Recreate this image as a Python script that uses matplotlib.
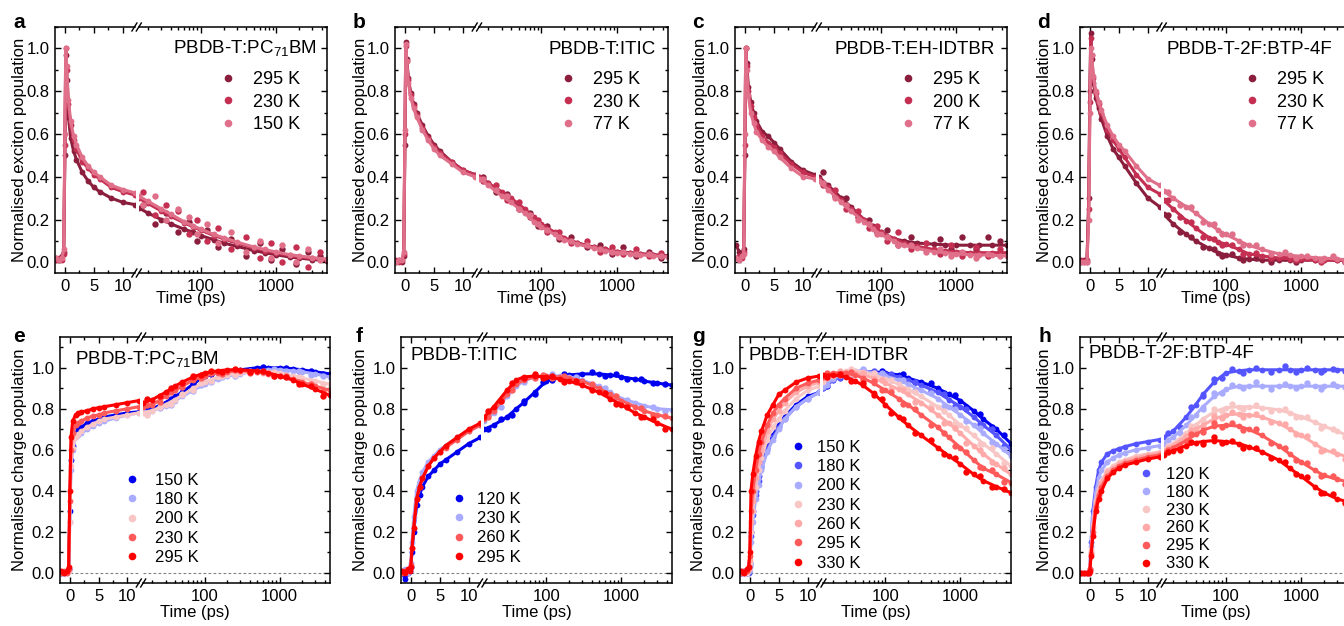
import numpy as np
import matplotlib
matplotlib.use("Agg")
import matplotlib.pyplot as plt
from matplotlib.lines import Line2D
from matplotlib.ticker import MultipleLocator, FixedLocator, FuncFormatter, LogLocator, NullFormatter

plt.rcParams['font.family'] = ['Liberation Sans', 'DejaVu Sans']
plt.rcParams['mathtext.fontset'] = 'custom'
plt.rcParams['mathtext.rm'] = 'Liberation Sans'

# ---------------- data ----------------
# time grids (ps): fit curves and extra scattered measurement points
TX = [-1.5, -1.0, -0.5, -0.2, 0.0, 0.15, 0.3, 0.6, 1.0, 1.5, 2, 3, 4, 5, 6, 8, 10, 12,
      15, 20, 30, 40, 60, 80, 100, 150, 200, 300, 500, 700, 1000, 1500, 2000, 3000, 4700]
TC = [-1.5, -1.0, -0.5, -0.2, 0.0, 0.2, 0.5, 1.0, 1.5, 2, 3, 4, 5, 6, 8, 10, 12,
      15, 20, 30, 40, 50, 70, 100, 150, 200, 300, 500, 700, 1000, 1500, 2000, 3000, 4700]
TD = [17, 25, 35, 50, 70, 90, 120, 170, 250, 400, 600, 850, 1200, 1800, 2600, 3800]

# a: PBDB-T:PC71BM exciton
a295 = [0.02, 0.01, 0.03, 0.05, 0.50, 0.97, 0.85, 0.68, 0.58, 0.52, 0.48, 0.42, 0.38, 0.35, 0.33, 0.30, 0.28, 0.27,
        0.255, 0.23, 0.20, 0.18, 0.155, 0.14, 0.125, 0.105, 0.09, 0.075, 0.055, 0.045, 0.035, 0.025, 0.02, 0.013, 0.008]
a230 = [0.01, 0.02, 0.01, 0.04, 0.55, 1.00, 0.90, 0.74, 0.64, 0.57, 0.53, 0.47, 0.44, 0.41, 0.39, 0.35, 0.33, 0.315,
        0.30, 0.275, 0.24, 0.215, 0.185, 0.165, 0.15, 0.125, 0.11, 0.09, 0.068, 0.055, 0.043, 0.032, 0.025, 0.018, 0.012]
a150 = [0.02, 0.01, 0.02, 0.06, 0.60, 1.00, 0.92, 0.76, 0.66, 0.59, 0.55, 0.49, 0.45, 0.42, 0.40, 0.36, 0.34, 0.325,
        0.31, 0.285, 0.25, 0.225, 0.19, 0.17, 0.155, 0.13, 0.115, 0.095, 0.072, 0.06, 0.048, 0.036, 0.03, 0.022, 0.015]
a295d = [0.27, 0.18, 0.23, 0.14, 0.19, 0.10, 0.15, 0.07, 0.11, 0.03, 0.09, 0.01, 0.06, -0.01, 0.05, 0.03]
a230d = [0.33, 0.22, 0.27, 0.24, 0.13, 0.20, 0.10, 0.16, 0.06, 0.12, 0.02, 0.09, 0.00, 0.07, -0.02, 0.05]
a150d = [0.27, 0.31, 0.20, 0.25, 0.21, 0.13, 0.18, 0.09, 0.14, 0.05, 0.10, 0.02, 0.08, 0.00, 0.06, 0.01]
# b: PBDB-T:ITIC exciton
b295 = [0.0, 0.01, 0.0, 0.03, 0.55, 1.03, 0.95, 0.86, 0.79, 0.74, 0.70, 0.64, 0.59, 0.55, 0.52, 0.47, 0.43, 0.41,
        0.40, 0.37, 0.32, 0.29, 0.24, 0.20, 0.17, 0.135, 0.11, 0.09, 0.07, 0.06, 0.05, 0.045, 0.04, 0.035, 0.03]
b230 = [0.01, 0.0, 0.01, 0.04, 0.60, 1.01, 0.94, 0.85, 0.78, 0.73, 0.69, 0.63, 0.58, 0.54, 0.51, 0.47, 0.43, 0.41,
        0.40, 0.37, 0.33, 0.30, 0.25, 0.21, 0.18, 0.14, 0.115, 0.09, 0.07, 0.06, 0.05, 0.043, 0.04, 0.035, 0.03]
b77 = [0.0, 0.01, 0.01, 0.05, 0.62, 1.02, 0.94, 0.84, 0.77, 0.72, 0.68, 0.62, 0.57, 0.53, 0.50, 0.46, 0.42, 0.40,
       0.39, 0.36, 0.31, 0.28, 0.23, 0.19, 0.165, 0.13, 0.105, 0.085, 0.065, 0.055, 0.045, 0.04, 0.035, 0.03, 0.025]
b295d = [0.40, 0.33, 0.32, 0.25, 0.23, 0.17, 0.17, 0.11, 0.12, 0.07, 0.08, 0.04, 0.07, 0.03, 0.05, 0.02]
b230d = [0.38, 0.36, 0.29, 0.28, 0.21, 0.20, 0.14, 0.14, 0.09, 0.10, 0.05, 0.07, 0.04, 0.06, 0.03, 0.045]
b77d = [0.39, 0.34, 0.31, 0.25, 0.22, 0.18, 0.15, 0.12, 0.10, 0.08, 0.06, 0.05, 0.05, 0.04, 0.04, 0.03]
# c: PBDB-T:EH-IDTBR exciton
c295 = [0.08, 0.05, 0.03, 0.06, 0.50, 1.00, 0.93, 0.82, 0.75, 0.70, 0.66, 0.61, 0.59, 0.56, 0.53, 0.47, 0.43, 0.41,
        0.40, 0.36, 0.30, 0.26, 0.20, 0.17, 0.14, 0.11, 0.10, 0.09, 0.085, 0.082, 0.08, 0.08, 0.08, 0.08, 0.08]
c200 = [0.02, 0.03, 0.02, 0.05, 0.55, 1.00, 0.92, 0.80, 0.73, 0.68, 0.64, 0.59, 0.56, 0.54, 0.51, 0.46, 0.42, 0.40,
        0.39, 0.35, 0.29, 0.25, 0.20, 0.165, 0.14, 0.11, 0.09, 0.075, 0.06, 0.055, 0.05, 0.045, 0.045, 0.045, 0.045]
c77 = [0.02, 0.01, 0.03, 0.04, 0.60, 1.00, 0.90, 0.78, 0.70, 0.65, 0.61, 0.57, 0.54, 0.52, 0.49, 0.44, 0.40, 0.39,
       0.38, 0.34, 0.28, 0.24, 0.19, 0.155, 0.13, 0.10, 0.08, 0.065, 0.05, 0.045, 0.04, 0.035, 0.035, 0.033, 0.03]
c295d = [0.42, 0.31, 0.30, 0.21, 0.20, 0.14, 0.15, 0.08, 0.12, 0.06, 0.11, 0.06, 0.12, 0.06, 0.12, 0.10]
c200d = [0.36, 0.34, 0.25, 0.24, 0.16, 0.17, 0.10, 0.14, 0.06, 0.09, 0.04, 0.08, 0.03, 0.07, 0.03, 0.06]
c77d = [0.37, 0.30, 0.27, 0.20, 0.18, 0.13, 0.12, 0.08, 0.08, 0.05, 0.06, 0.03, 0.05, 0.02, 0.04, 0.03]
# d: PBDB-T-2F:BTP-4F exciton
d295 = [0.0, 0.01, 0.0, 0.30, 0.80, 1.07, 0.95, 0.84, 0.77, 0.72, 0.67, 0.59, 0.53, 0.49, 0.45, 0.37, 0.30, 0.26,
        0.225, 0.18, 0.13, 0.10, 0.065, 0.045, 0.035, 0.02, 0.015, 0.01, 0.01, 0.01, 0.01, 0.01, 0.01, 0.01, 0.01]
d230 = [0.01, 0.0, 0.01, 0.25, 0.75, 1.05, 0.97, 0.86, 0.79, 0.74, 0.70, 0.62, 0.57, 0.53, 0.49, 0.41, 0.35, 0.32,
        0.29, 0.25, 0.195, 0.16, 0.115, 0.095, 0.085, 0.06, 0.04, 0.03, 0.02, 0.017, 0.015, 0.012, 0.01, 0.01, 0.01]
d77 = [0.0, 0.0, 0.0, 0.20, 0.70, 1.00, 0.97, 0.87, 0.80, 0.75, 0.71, 0.64, 0.59, 0.55, 0.52, 0.45, 0.39, 0.36,
       0.335, 0.30, 0.26, 0.23, 0.18, 0.15, 0.13, 0.10, 0.08, 0.06, 0.04, 0.033, 0.028, 0.022, 0.02, 0.015, 0.01]
d295d = [0.22, 0.14, 0.12, 0.07, 0.06, 0.03, 0.04, 0.01, 0.02, 0.00, 0.02, 0.00, 0.02, 0.01, 0.02, 0.00]
d230d = [0.29, 0.21, 0.19, 0.12, 0.11, 0.08, 0.08, 0.04, 0.045, 0.02, 0.03, 0.01, 0.02, 0.00, 0.02, 0.01]
d77d = [0.33, 0.27, 0.26, 0.19, 0.18, 0.13, 0.13, 0.08, 0.08, 0.04, 0.05, 0.02, 0.03, 0.01, 0.03, 0.00]

# e: PBDB-T:PC71BM charge
e150 = [0.0, 0.0, 0.01, 0.02, 0.30, 0.55, 0.62, 0.68, 0.70, 0.71, 0.73, 0.74, 0.75, 0.76, 0.77, 0.78, 0.785,
        0.79, 0.80, 0.83, 0.86, 0.88, 0.92, 0.96, 0.975, 0.98, 0.99, 1.0, 1.0, 1.0, 0.995, 0.99, 0.98, 0.97]
e180 = [0.0, 0.0, 0.0, 0.01, 0.25, 0.50, 0.60, 0.66, 0.67, 0.68, 0.70, 0.715, 0.73, 0.74, 0.755, 0.77, 0.78,
        0.785, 0.79, 0.815, 0.84, 0.86, 0.89, 0.92, 0.945, 0.96, 0.97, 0.985, 0.99, 0.99, 0.985, 0.98, 0.97, 0.955]
e200 = [0.01, 0.0, 0.0, 0.01, 0.25, 0.52, 0.61, 0.66, 0.675, 0.69, 0.71, 0.725, 0.74, 0.75, 0.76, 0.77, 0.78,
        0.78, 0.79, 0.82, 0.845, 0.865, 0.90, 0.93, 0.955, 0.965, 0.975, 0.98, 0.98, 0.975, 0.96, 0.95, 0.935, 0.92]
e230 = [0.0, 0.01, 0.0, 0.02, 0.35, 0.60, 0.68, 0.72, 0.73, 0.74, 0.755, 0.765, 0.77, 0.78, 0.79, 0.80, 0.81,
        0.81, 0.82, 0.86, 0.89, 0.91, 0.94, 0.96, 0.975, 0.98, 0.985, 0.98, 0.97, 0.96, 0.945, 0.93, 0.91, 0.89]
e295 = [0.01, 0.0, 0.01, 0.03, 0.40, 0.66, 0.74, 0.77, 0.78, 0.785, 0.79, 0.80, 0.805, 0.81, 0.82, 0.83, 0.84,
        0.83, 0.845, 0.88, 0.91, 0.93, 0.955, 0.975, 0.985, 0.99, 0.99, 0.985, 0.975, 0.96, 0.94, 0.92, 0.895, 0.865]
e150d = [0.80, 0.81, 0.85, 0.875, 0.925, 0.94, 0.97, 0.975, 0.99, 0.99, 1.005, 0.995, 1.0, 0.985, 0.985, 0.97]
e180d = [0.78, 0.805, 0.82, 0.865, 0.885, 0.915, 0.93, 0.955, 0.96, 0.985, 0.98, 0.995, 0.985, 0.985, 0.965, 0.96]
e200d = [0.77, 0.81, 0.825, 0.87, 0.89, 0.925, 0.935, 0.96, 0.965, 0.98, 0.975, 0.98, 0.965, 0.955, 0.935, 0.92]
e230d = [0.82, 0.835, 0.88, 0.905, 0.945, 0.95, 0.975, 0.97, 0.99, 0.975, 0.98, 0.96, 0.96, 0.93, 0.92, 0.885]
e295d = [0.85, 0.86, 0.90, 0.925, 0.96, 0.965, 0.985, 0.98, 0.995, 0.98, 0.985, 0.96, 0.955, 0.92, 0.91, 0.86]
# f: PBDB-T:ITIC charge
f120 = [0.0, -0.03, 0.0, 0.01, 0.03, 0.10, 0.20, 0.33, 0.38, 0.42, 0.47, 0.50, 0.53, 0.55, 0.59, 0.63, 0.66,
        0.70, 0.72, 0.76, 0.80, 0.83, 0.88, 0.935, 0.955, 0.965, 0.97, 0.97, 0.965, 0.955, 0.945, 0.935, 0.925, 0.915]
f230 = [0.01, 0.02, 0.0, 0.02, 0.05, 0.15, 0.27, 0.40, 0.45, 0.49, 0.54, 0.57, 0.60, 0.62, 0.66, 0.69, 0.72,
        0.74, 0.78, 0.86, 0.91, 0.935, 0.955, 0.96, 0.96, 0.955, 0.94, 0.91, 0.88, 0.85, 0.83, 0.815, 0.80, 0.795]
f260 = [0.0, 0.01, 0.02, 0.02, 0.04, 0.12, 0.22, 0.36, 0.42, 0.46, 0.52, 0.56, 0.59, 0.61, 0.65, 0.69, 0.72,
        0.75, 0.79, 0.87, 0.92, 0.94, 0.955, 0.96, 0.955, 0.95, 0.935, 0.90, 0.87, 0.84, 0.81, 0.79, 0.77, 0.755]
f295 = [0.01, 0.0, 0.02, 0.01, 0.03, 0.12, 0.22, 0.36, 0.42, 0.46, 0.52, 0.56, 0.59, 0.62, 0.66, 0.70, 0.73,
        0.76, 0.81, 0.89, 0.94, 0.955, 0.96, 0.955, 0.945, 0.935, 0.915, 0.88, 0.85, 0.82, 0.78, 0.76, 0.73, 0.70]
f120d = [0.70, 0.75, 0.77, 0.84, 0.87, 0.93, 0.94, 0.97, 0.96, 0.98, 0.96, 0.97, 0.945, 0.945, 0.925, 0.92]
f230d = [0.77, 0.81, 0.895, 0.93, 0.965, 0.955, 0.97, 0.95, 0.955, 0.915, 0.90, 0.855, 0.845, 0.81, 0.81, 0.79]
f260d = [0.76, 0.84, 0.89, 0.95, 0.95, 0.965, 0.95, 0.96, 0.93, 0.92, 0.875, 0.86, 0.82, 0.805, 0.77, 0.765]
f295d = [0.79, 0.84, 0.925, 0.95, 0.97, 0.95, 0.96, 0.93, 0.935, 0.89, 0.875, 0.825, 0.81, 0.76, 0.75, 0.70]
# g: PBDB-T:EH-IDTBR charge
g150 = [0.0, 0.01, 0.0, 0.01, 0.05, 0.20, 0.30, 0.40, 0.47, 0.52, 0.61, 0.67, 0.72, 0.76, 0.82, 0.86, 0.88,
        0.90, 0.94, 0.97, 0.98, 0.98, 0.98, 0.975, 0.965, 0.95, 0.93, 0.90, 0.87, 0.84, 0.79, 0.75, 0.70, 0.63]
g180 = [0.0, 0.0, 0.01, 0.0, 0.04, 0.18, 0.28, 0.38, 0.45, 0.51, 0.60, 0.66, 0.71, 0.75, 0.81, 0.85, 0.88,
        0.90, 0.94, 0.97, 0.98, 0.98, 0.975, 0.97, 0.955, 0.94, 0.915, 0.88, 0.845, 0.81, 0.76, 0.72, 0.67, 0.60]
g200 = [0.01, 0.0, 0.0, 0.01, 0.03, 0.15, 0.25, 0.36, 0.43, 0.50, 0.59, 0.65, 0.70, 0.75, 0.81, 0.85, 0.88,
        0.905, 0.945, 0.975, 0.985, 0.985, 0.975, 0.96, 0.94, 0.92, 0.89, 0.85, 0.81, 0.77, 0.72, 0.68, 0.63, 0.57]
g230 = [0.0, 0.01, 0.0, 0.02, 0.05, 0.20, 0.30, 0.42, 0.50, 0.56, 0.65, 0.71, 0.75, 0.79, 0.85, 0.89, 0.91,
        0.93, 0.96, 0.985, 0.985, 0.98, 0.965, 0.945, 0.92, 0.895, 0.86, 0.81, 0.77, 0.72, 0.67, 0.63, 0.58, 0.52]
g260 = [0.01, 0.0, 0.01, 0.02, 0.06, 0.25, 0.35, 0.46, 0.54, 0.60, 0.69, 0.75, 0.79, 0.83, 0.88, 0.91, 0.93,
        0.95, 0.97, 0.98, 0.975, 0.965, 0.95, 0.925, 0.895, 0.87, 0.83, 0.77, 0.73, 0.68, 0.62, 0.58, 0.53, 0.48]
g295 = [0.0, 0.01, 0.01, 0.03, 0.08, 0.30, 0.40, 0.50, 0.58, 0.64, 0.72, 0.78, 0.82, 0.85, 0.90, 0.925, 0.94,
        0.955, 0.975, 0.975, 0.965, 0.95, 0.925, 0.89, 0.85, 0.82, 0.77, 0.71, 0.66, 0.61, 0.55, 0.51, 0.48, 0.44]
g330 = [0.01, 0.0, 0.02, 0.03, 0.10, 0.40, 0.48, 0.57, 0.64, 0.69, 0.77, 0.82, 0.87, 0.89, 0.93, 0.95, 0.96,
        0.965, 0.965, 0.955, 0.935, 0.915, 0.875, 0.82, 0.76, 0.72, 0.67, 0.61, 0.57, 0.53, 0.48, 0.45, 0.42, 0.39]
g150d = [0.91, 0.965, 0.97, 0.99, 0.975, 0.985, 0.965, 0.97, 0.93, 0.925, 0.875, 0.865, 0.81, 0.775, 0.71, 0.67]
g180d = [0.93, 0.95, 0.985, 0.97, 0.985, 0.965, 0.97, 0.94, 0.93, 0.885, 0.87, 0.815, 0.80, 0.725, 0.70, 0.62]
g200d = [0.915, 0.97, 0.975, 0.995, 0.965, 0.975, 0.94, 0.94, 0.89, 0.875, 0.815, 0.80, 0.74, 0.705, 0.64, 0.605]
g230d = [0.955, 0.965, 0.995, 0.97, 0.975, 0.94, 0.94, 0.895, 0.88, 0.815, 0.79, 0.73, 0.705, 0.63, 0.61, 0.535]
g260d = [0.95, 0.985, 0.97, 0.975, 0.94, 0.94, 0.895, 0.89, 0.835, 0.80, 0.73, 0.705, 0.635, 0.60, 0.54, 0.51]
g295d = [0.975, 0.965, 0.98, 0.94, 0.935, 0.89, 0.88, 0.825, 0.80, 0.72, 0.68, 0.62, 0.59, 0.515, 0.50, 0.445]
g330d = [0.955, 0.97, 0.935, 0.925, 0.865, 0.85, 0.78, 0.75, 0.68, 0.65, 0.58, 0.56, 0.49, 0.47, 0.42, 0.41]
# h: PBDB-T-2F:BTP-4F charge
h120 = [0.0, 0.0, 0.0, 0.0, 0.02, 0.15, 0.30, 0.42, 0.50, 0.54, 0.58, 0.595, 0.605, 0.615, 0.63, 0.64, 0.65,
        0.66, 0.69, 0.76, 0.82, 0.87, 0.93, 0.975, 0.985, 0.99, 0.99, 0.99, 0.99, 0.99, 0.99, 0.99, 0.99, 0.99]
h180 = [0.0, 0.0, 0.0, 0.0, 0.02, 0.13, 0.27, 0.39, 0.46, 0.50, 0.54, 0.56, 0.575, 0.585, 0.60, 0.61, 0.62,
        0.63, 0.66, 0.72, 0.77, 0.81, 0.86, 0.895, 0.91, 0.91, 0.91, 0.91, 0.91, 0.91, 0.91, 0.91, 0.91, 0.91]
h230 = [0.0, 0.0, 0.0, 0.0, 0.02, 0.11, 0.23, 0.35, 0.41, 0.45, 0.50, 0.52, 0.54, 0.55, 0.57, 0.58, 0.59,
        0.60, 0.63, 0.68, 0.72, 0.75, 0.785, 0.805, 0.81, 0.81, 0.805, 0.795, 0.78, 0.76, 0.735, 0.715, 0.69, 0.66]
h260 = [0.0, 0.0, 0.0, 0.0, 0.02, 0.10, 0.22, 0.34, 0.40, 0.44, 0.49, 0.51, 0.53, 0.545, 0.56, 0.575, 0.585,
        0.595, 0.62, 0.665, 0.70, 0.72, 0.75, 0.77, 0.775, 0.77, 0.76, 0.73, 0.70, 0.67, 0.63, 0.60, 0.58, 0.56]
h295 = [0.0, 0.0, 0.0, 0.0, 0.02, 0.09, 0.20, 0.32, 0.38, 0.42, 0.47, 0.50, 0.52, 0.535, 0.55, 0.565, 0.575,
        0.585, 0.61, 0.645, 0.675, 0.695, 0.715, 0.72, 0.715, 0.70, 0.67, 0.62, 0.58, 0.54, 0.50, 0.475, 0.455, 0.44]
h330 = [0.0, 0.0, 0.0, 0.0, 0.01, 0.08, 0.18, 0.30, 0.36, 0.40, 0.46, 0.49, 0.51, 0.525, 0.54, 0.555, 0.565,
        0.575, 0.595, 0.62, 0.635, 0.64, 0.645, 0.64, 0.63, 0.615, 0.59, 0.55, 0.51, 0.47, 0.42, 0.39, 0.36, 0.34]
h120d = [0.68, 0.71, 0.81, 0.86, 0.945, 0.95, 0.995, 0.975, 1.0, 0.98, 1.01, 0.98, 1.0, 0.98, 0.995, 0.985]
h180d = [0.65, 0.68, 0.76, 0.80, 0.875, 0.875, 0.915, 0.90, 0.93, 0.895, 0.92, 0.90, 0.925, 0.895, 0.92, 0.905]
h230d = [0.62, 0.645, 0.715, 0.74, 0.80, 0.79, 0.825, 0.80, 0.82, 0.79, 0.80, 0.76, 0.76, 0.705, 0.70, 0.66]
h260d = [0.61, 0.635, 0.695, 0.71, 0.765, 0.755, 0.785, 0.76, 0.775, 0.735, 0.725, 0.675, 0.665, 0.595, 0.595, 0.555]
h295d = [0.60, 0.62, 0.675, 0.685, 0.73, 0.71, 0.73, 0.695, 0.70, 0.635, 0.61, 0.55, 0.535, 0.47, 0.47, 0.435]
h330d = [0.59, 0.60, 0.64, 0.63, 0.66, 0.635, 0.645, 0.61, 0.61, 0.56, 0.54, 0.48, 0.465, 0.39, 0.385, 0.34]

titles = ['PBDB-T:PC$_\\mathrm{71}$BM', 'PBDB-T:ITIC', 'PBDB-T:EH-IDTBR', 'PBDB-T-2F:BTP-4F']
letters_top = ['a', 'b', 'c', 'd']
letters_bot = ['e', 'f', 'g', 'h']
labels_a = ['295 K', '230 K', '150 K']
labels_b = ['295 K', '230 K', '77 K']
labels_c = ['295 K', '200 K', '77 K']
labels_d = ['295 K', '230 K', '77 K']
labels_e = ['150 K', '180 K', '200 K', '230 K', '295 K']
labels_f = ['120 K', '230 K', '260 K', '295 K']
labels_g = ['150 K', '180 K', '200 K', '230 K', '260 K', '295 K', '330 K']
labels_h = ['120 K', '180 K', '230 K', '260 K', '295 K', '330 K']

EXC = ['#8B1E3D', '#C42F52', '#E0708A']
C_BLUE, C_MBLUE, C_LBLUE = '#0000F0', '#5555FF', '#A9ABFF'
C_LPINK, C_PINK, C_SALM, C_RED = '#F9C6C6', '#FFA9A9', '#FF5A5A', '#FF0000'

# ---------------- figure ----------------
W, H = 1344, 626
fig = plt.figure(figsize=(W / 100, H / 100), dpi=100)


def fx(px):
    return px / W


def fy(py):
    return 1 - py / H


FS = 12


def make_panel(x0, x1, y0, y1, ylim, zero_line):
    w = x1 - x0
    h = y1 - y0
    gap = 4
    wl = 0.30 * w - gap / 2
    wr = w - wl - gap
    axL = fig.add_axes([fx(x0), fy(y1), wl / W, h / H])
    axR = fig.add_axes([fx(x0 + wl + gap), fy(y1), wr / W, h / H])
    axL.set_xlim(-1.7, 12.0)
    axL.xaxis.set_major_locator(FixedLocator([0, 5, 10]))
    axL.xaxis.set_minor_locator(FixedLocator([2.5, 7.5]))
    axL.xaxis.set_major_formatter(FuncFormatter(lambda v, p: f'{v:g}'))
    axR.set_xscale('log')
    axR.set_xlim(15, 4700)
    axR.xaxis.set_major_locator(FixedLocator([100, 1000]))
    axR.xaxis.set_major_formatter(FuncFormatter(lambda v, p: f'{v:g}'))
    axR.xaxis.set_minor_locator(LogLocator(base=10, subs=np.arange(2, 10), numticks=20))
    axR.xaxis.set_minor_formatter(NullFormatter())
    for ax in (axL, axR):
        ax.set_ylim(*ylim)
        ax.yaxis.set_major_locator(MultipleLocator(0.2))
        ax.yaxis.set_minor_locator(MultipleLocator(0.1))
        ax.tick_params(which='both', direction='in', top=True, labelsize=FS, width=1.0, pad=4)
        ax.tick_params(which='major', length=4.5)
        ax.tick_params(which='minor', length=2.5)
        for s in ax.spines.values():
            s.set_linewidth(1.1)
        if zero_line:
            ax.axhline(0, color='#808080', lw=0.8, ls=(0, (2.5, 2)), zorder=0)
    axL.yaxis.set_major_formatter(FuncFormatter(lambda v, p: f'{v:.1f}'))
    axL.spines['right'].set_visible(False)
    axL.tick_params(which='both', right=False)
    axR.spines['left'].set_visible(False)
    axR.tick_params(which='both', left=False, right=True, labelleft=False)
    bx = x0 + wl + gap / 2
    for yy in (y0, y1):
        for o in (-2.2, 2.2):
            fig.add_artist(Line2D([fx(bx + o - 2.5), fx(bx + o + 2.5)], [fy(yy + 4), fy(yy - 4)],
                                  transform=fig.transFigure, color='k', lw=1.0))
    return axL, axR


def draw_series(axs, t, series, pts, colors):
    for v, d, c in zip(series, pts, colors):
        for ax in axs:
            ax.plot(t, v, color=c, lw=2.2, marker='o', ms=4.2, mew=0, solid_joinstyle='round')
        axs[1].plot(TD, d, ls='none', marker='o', ms=4.6, mew=0, color=c)


def add_legend(ax, labels, colors, mx, ytop, spacing, fs, text_x):
    fpx = fs * 100 / 72
    handles = [Line2D([], [], ls='none', marker='o', ms=5.5, mew=0, color=c) for c in colors]
    hl = 1.0
    pad = (text_x - mx) / fpx - hl / 2
    left = mx - hl * fpx / 2
    text_h = fpx * 0.94
    lsp = (spacing - text_h) / fpx
    ax.legend(handles, labels, loc='upper left', bbox_to_anchor=(fx(left), fy(ytop + 2.5 - text_h / 2)),
              bbox_transform=fig.transFigure, frameon=False, borderpad=0, borderaxespad=0,
              handlelength=hl, handletextpad=pad, labelspacing=lsp, fontsize=fs)


# top row: exciton
top_boxes = [(55, 327), (395, 668), (735, 1007), (1080, 1352)]
top_data = [[a295, a230, a150], [b295, b230, b77], [c295, c200, c77], [d295, d230, d77]]
top_pts = [[a295d, a230d, a150d], [b295d, b230d, b77d], [c295d, c200d, c77d], [d295d, d230d, d77d]]
top_labels = [labels_a, labels_b, labels_c, labels_d]
top_title_x = [173, 548, 834, 1167]
top_leg_mx = [228, 568, 908, 1252]
top_letter_x = [13, 353, 692, 1037]
top_ylab_x = [20, 361, 700, 1044]
for i in range(4):
    x0, x1 = top_boxes[i]
    axL, axR = make_panel(x0, x1, 27, 273, (-0.05, 1.1), False)
    draw_series((axL, axR), TX, top_data[i], top_pts[i], EXC)
    fig.text(fx(top_title_x[i]), fy(49), titles[i], fontsize=13.5, ha='left', va='center')
    add_legend(axR, top_labels[i], EXC, top_leg_mx[i], 77, 22.5, 13, top_leg_mx[i] + 25)
    fig.text(fx(top_letter_x[i]), fy(27.5), letters_top[i], fontsize=15, fontweight='bold', ha='left', va='baseline')
    fig.text(fx(top_ylab_x[i]), fy(150), 'Normalised exciton population', rotation=90, fontsize=FS,
             ha='center', va='center')
    fig.text(fx((x0 + x1) / 2), fy(299), 'Time (ps)', fontsize=FS, ha='center', va='center')

# bottom row: charge
bot_boxes = [(60, 330), (401, 672), (740, 1011), (1080, 1352)]
bot_data = [[e150, e180, e200, e230, e295], [f120, f230, f260, f295],
            [g150, g180, g200, g230, g260, g295, g330], [h120, h180, h230, h260, h295, h330]]
bot_pts = [[e150d, e180d, e200d, e230d, e295d], [f120d, f230d, f260d, f295d],
           [g150d, g180d, g200d, g230d, g260d, g295d, g330d], [h120d, h180d, h230d, h260d, h295d, h330d]]
bot_colors = [[C_BLUE, C_LBLUE, C_LPINK, C_SALM, C_RED], [C_BLUE, C_LBLUE, C_SALM, C_RED],
              [C_BLUE, C_MBLUE, C_LBLUE, C_LPINK, C_PINK, C_SALM, C_RED],
              [C_MBLUE, C_LBLUE, C_LPINK, C_PINK, C_SALM, C_RED]]
bot_labels = [labels_e, labels_f, labels_g, labels_h]
bot_title_xy = [(75, 360), (410, 355), (748, 355), (1089, 353)]
bot_leg = [(132, 478, 20, 155), (459, 497, 20, 477), (798, 445, 20, 817), (1146, 472, 18.6, 1166)]
bot_letter_x = [13, 356, 692, 1038]
bot_ylab_x = [20, 360, 699, 1044]
for i in range(4):
    x0, x1 = bot_boxes[i]
    axL, axR = make_panel(x0, x1, 337, 583, (-0.05, 1.15), True)
    draw_series((axL, axR), TC, bot_data[i], bot_pts[i], bot_colors[i])
    tx, ty = bot_title_xy[i]
    fig.text(fx(tx), fy(ty), titles[i], fontsize=13.5, ha='left', va='center')
    mx, y1st, sp, txx = bot_leg[i]
    add_legend(axR, bot_labels[i], bot_colors[i], mx, y1st, sp, 12, txx)
    fig.text(fx(bot_letter_x[i]), fy(342), letters_bot[i], fontsize=15, fontweight='bold', ha='left', va='baseline')
    fig.text(fx(bot_ylab_x[i]), fy(460), 'Normalised charge population', rotation=90, fontsize=FS,
             ha='center', va='center')
    fig.text(fx((x0 + x1) / 2), fy(613), 'Time (ps)', fontsize=FS, ha='center', va='center')

fig.savefig('out.png', dpi=100)
